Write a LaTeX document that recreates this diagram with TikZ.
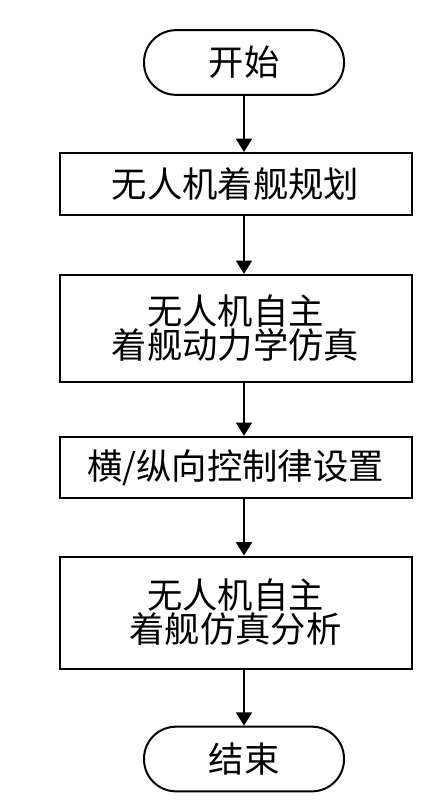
\documentclass[tikz,border=0pt]{standalone}
\usepackage{fontspec}
\newfontfamily\cjkfont{Noto Sans CJK SC}
\usetikzlibrary{positioning,arrows.meta}

\begin{document}
\begin{tikzpicture}[x=0.75pt,y=-0.75pt,
    procbox/.style={draw, line width=1.5pt, minimum width=264pt, align=center,
      font=\cjkfont\fontsize{26.5}{24}\selectfont},
    termbox/.style={draw, line width=1.5pt, minimum width=150pt, minimum height=48.5pt,
      rounded corners=24pt, font=\cjkfont\fontsize{26.5}{24}\selectfont},
    flowarrow/.style={line width=1.5pt, -{Triangle[length=10pt,width=12pt]}}]
    \useasboundingbox (0,0) rectangle (441,806);
    % terminals
    \node[termbox] (start) at (244,62.5) {开始};
    \node[termbox] (stop) at (244,759) {结束};
    % process steps
    \node[procbox, minimum height=46.5pt] (plan) at (235.5,184) {无人机着舰规划};
    \node[procbox, minimum height=80.5pt] (dyn) at (235.5,328.5) {无人机自主\\着舰动力学仿真};
    \node[procbox, minimum height=46pt] (ctrl) at (235.5,467.5) {横/纵向控制律设置};
    \node[procbox, minimum height=84pt] (ana) at (235.5,612.5) {无人机自主\\着舰仿真分析};
    % connectors
    \draw[flowarrow] (start.south) -- (start.south |- plan.north);
    \draw[flowarrow] (plan.south -| start) -- (dyn.north -| start);
    \draw[flowarrow] (dyn.south -| start) -- (ctrl.north -| start);
    \draw[flowarrow] (ctrl.south -| start) -- (ana.north -| start);
    \draw[flowarrow] (ana.south -| start) -- (stop.north);
\end{tikzpicture}
\end{document}
